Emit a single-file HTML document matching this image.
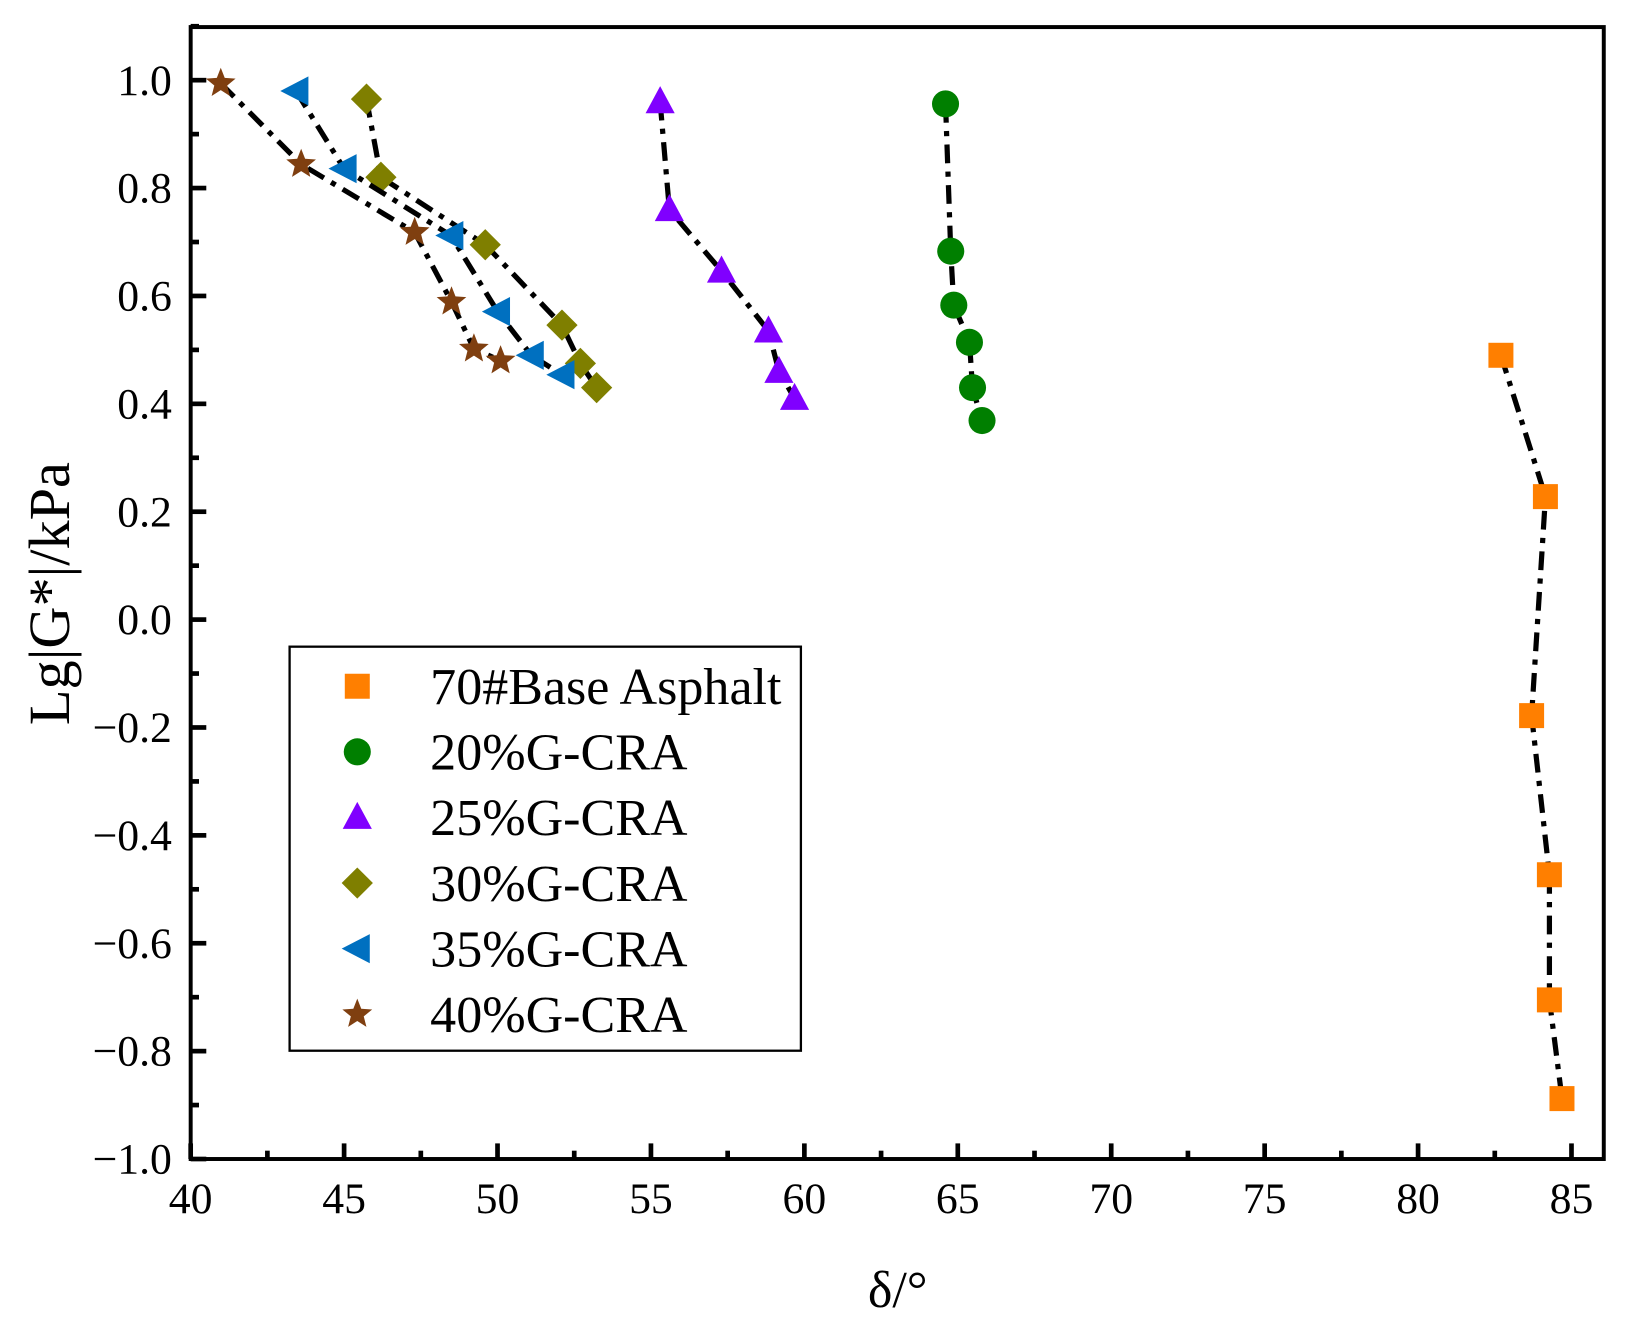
<!DOCTYPE html>
<html><head><meta charset="utf-8"><style>
html,body{margin:0;padding:0;background:#fff;}
svg, svg text{font-family:"Liberation Serif","Times New Roman",serif;}
svg{display:block;}
</style></head><body>
<svg id="chart" width="1632" height="1335" viewBox="0 0 1567 1282"></svg>
<script>
const seriesNames=["70#Base Asphalt","20%G-CRA","25%G-CRA","30%G-CRA","35%G-CRA","40%G-CRA"];
const x70=[82.7,84.15,83.7,84.28,84.28,84.69];
const y70=[0.49,0.228,-0.178,-0.473,-0.705,-0.888];
const x20=[64.6,64.77,64.87,65.38,65.48,65.79];
const y20=[0.956,0.683,0.583,0.514,0.43,0.369];
const x25=[55.3,55.6,57.3,58.83,59.17,59.68];
const y25=[0.96,0.76,0.646,0.535,0.46,0.41];
const x30=[45.73,46.2,49.6,52.1,52.7,53.23];
const y30=[0.965,0.82,0.695,0.546,0.475,0.43];
const x35=[43.43,45.0,48.48,50.0,51.1,52.1];
const y35=[0.98,0.836,0.712,0.571,0.49,0.454];
const x40=[40.98,43.6,47.3,48.5,49.23,50.1];
const y40=[0.994,0.844,0.718,0.589,0.502,0.48];
const xTicks=[40,45,50,55,60,65,70,75,80,85];
const yTicks=[-1.0,-0.8,-0.6,-0.4,-0.2,0.0,0.2,0.4,0.6,0.8,1.0];

const NS="http://www.w3.org/2000/svg";
const svg=document.getElementById('chart');
const L=183,R=1540,T=26,B=1113;
const FF='"Liberation Serif", serif';
const xs=v=>L+(v-40)*(1326/45);
const ys=v=>595-v*518;
function mk(tag,attrs,parent){const e=document.createElementNS(NS,tag);for(const k in attrs)e.setAttribute(k,attrs[k]);(parent||svg).appendChild(e);return e;}

const colors=["#ff7f00","#007f00","#8000ff","#7f7f00","#0070c0","#7f3f10"];
const shapes=["square","circle","triangle","diamond","left","star"];
const data=[[x70,y70],[x20,y20],[x25,y25],[x30,y30],[x35,y35],[x40,y40]];

function marker(shape,cx,cy,color,parent){
  let e;
  if(shape==="square") e=mk('rect',{x:cx-12,y:cy-12,width:24,height:24,fill:color},parent);
  else if(shape==="circle") e=mk('circle',{cx:cx,cy:cy,r:13,fill:color},parent);
  else if(shape==="triangle") e=mk('polygon',{points:`${cx},${cy-15} ${cx+14},${cy+11} ${cx-14},${cy+11}`,fill:color},parent);
  else if(shape==="diamond") e=mk('polygon',{points:`${cx},${cy-15} ${cx+15},${cy} ${cx},${cy+15} ${cx-15},${cy}`,fill:color},parent);
  else if(shape==="left") e=mk('polygon',{points:`${cx-15},${cy} ${cx+12},${cy-14} ${cx+12},${cy+14}`,fill:color},parent);
  else { let p=[];for(let i=0;i<10;i++){const r=i%2?6.5:15;const a=-Math.PI/2+i*Math.PI/5;p.push((cx+r*Math.cos(a)).toFixed(1)+","+(cy+r*Math.sin(a)).toFixed(1));}
    e=mk('polygon',{points:p.join(' '),fill:color},parent);}
  return e;
}

const frame=mk('rect',{x:L,y:T,width:R-L,height:B-T,fill:'none',stroke:'#000','stroke-width':3.8});



xTicks.forEach((v,i)=>{
  const x=xs(v);
  const t=mk('line',{x1:x,y1:B,x2:x,y2:B-15,stroke:'#000','stroke-width':4.5});
  
  
  if(i<xTicks.length-1){const xm=xs(v+2.5);mk('line',{x1:xm,y1:B,x2:xm,y2:B-8,stroke:'#000','stroke-width':4.5});}
  const lb=mk('text',{x:x,y:B+52,'text-anchor':'middle','font-size':42,'font-family':FF});
  lb.textContent=v;
  
  
});
yTicks.forEach((v,i)=>{
  const y=ys(v);
  const t=mk('line',{x1:L,y1:y,x2:L+15,y2:y,stroke:'#000','stroke-width':4.5});
  
  
  const ym=ys(v+0.1);mk('line',{x1:L,y1:ym,x2:L+8,y2:ym,stroke:'#000','stroke-width':4.5});
  const lb=mk('text',{x:L-18,y:y+14,'text-anchor':'end','font-size':42,'font-family':FF});
  lb.textContent=(v<0?"\u2212":"")+Math.abs(v).toFixed(1);
  
  
});
const xt=mk('text',{x:862,y:1255,'text-anchor':'middle','font-size':50,'font-family':FF});
xt.textContent="δ/°";


const yt=mk('text',{x:0,y:0,'text-anchor':'middle','font-size':56,'font-family':FF,transform:'translate(66,570) rotate(-90)'});
yt.textContent="Lg|G*|/kPa";



data.forEach((d,si)=>{
  const g=mk('g',{});
  
  
  const pts=d[0].map((x,i)=>xs(x).toFixed(1)+","+ys(d[1][i]).toFixed(1)).join(' ');
  const pl=mk('polyline',{points:pts,fill:'none',stroke:'#000','stroke-width':5,'stroke-dasharray':'18 8 5 8'},g);
  
  
  d[0].forEach((x,i)=>{
    const m=marker(shapes[si],xs(x),ys(d[1][i]),colors[si],g);
    
    
  });
});

const lg=mk('g',{});


const lb=mk('rect',{x:278,y:621,width:491,height:388,fill:'#fff',stroke:'#000','stroke-width':2.2},lg);


seriesNames.forEach((n,i)=>{
  const y=659+i*63;
  const m=marker(shapes[i],343,y,colors[i],lg);
  
  
  const t=mk('text',{x:413,y:y+17,'font-size':50,'font-family':FF},lg);
  t.textContent=n;
  
  
});
</script>
</body></html>
